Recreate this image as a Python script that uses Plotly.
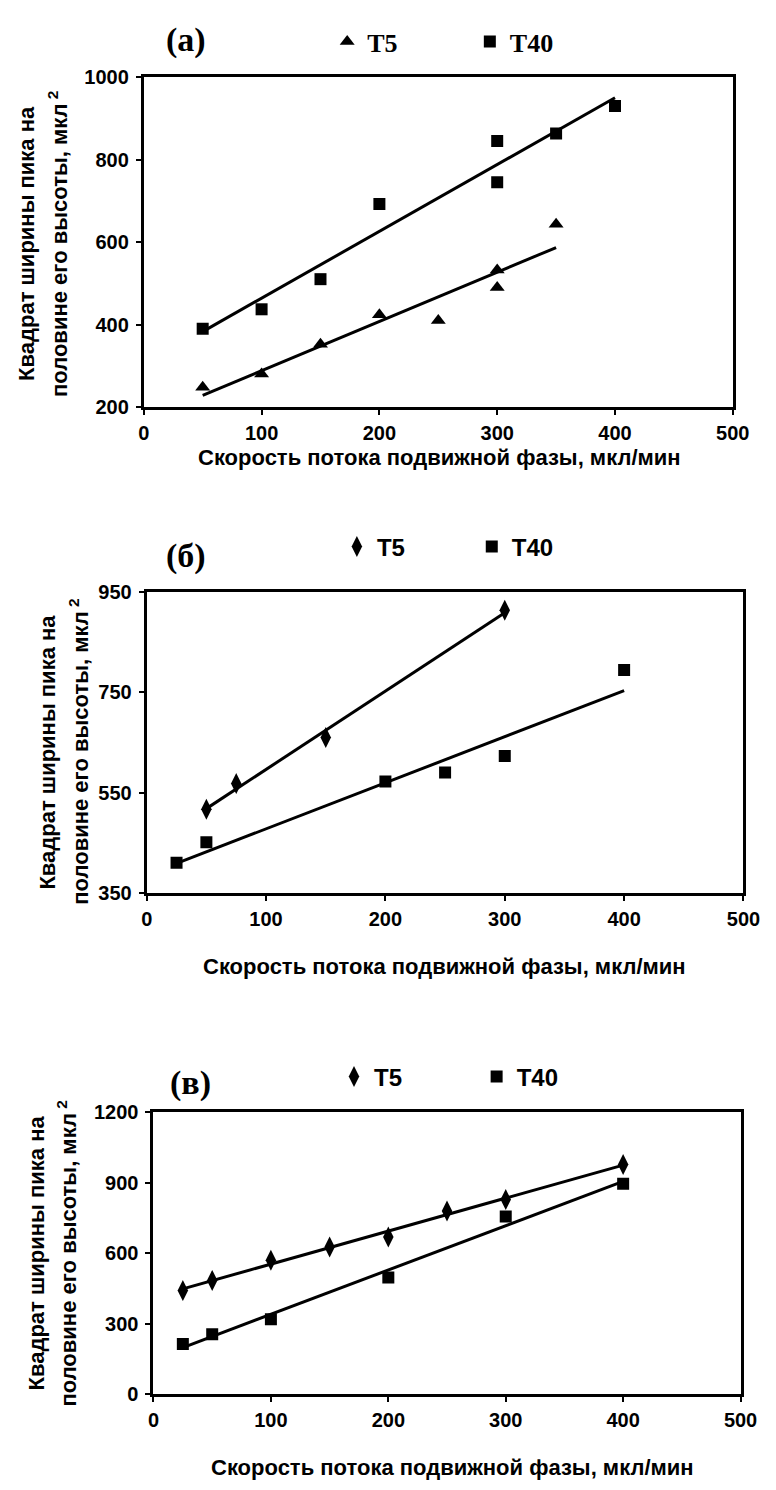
import numpy as np
import plotly.graph_objects as go

W, H = 776, 1490

# ---------------- data ----------------
# panel (a)
a_t5_x = [50, 100, 150, 200, 250, 300, 300, 350]
a_t5_y = [248, 280, 352, 424, 410, 532, 490, 643]
a_t40_x = [50, 100, 150, 200, 300, 300, 350, 400]
a_t40_y = [390, 437, 510, 692, 845, 745, 863, 930]
# panel (б)
b_t5_x = [50, 75, 150, 300]
b_t5_y = [517, 568, 660, 914]
b_t40_x = [25, 50, 200, 250, 300, 400]
b_t40_y = [410, 451, 572, 590, 623, 795]
# panel (в)
c_t5_x = [25, 50, 100, 150, 200, 250, 300, 400]
c_t5_y = [442, 485, 571, 627, 670, 780, 829, 979]
c_t40_x = [25, 50, 100, 200, 300, 400]
c_t40_y = [214, 256, 319, 497, 757, 897]

series_names = ["T5", "T40"]
x_ticks = [0, 100, 200, 300, 400, 500]
a_y_ticks = [200, 400, 600, 800, 1000]
b_y_ticks = [350, 550, 750, 950]
c_y_ticks = [0, 300, 600, 900, 1200]

x_title = "Скорость потока подвижной фазы, мкл/мин"
y_title_1 = "Квадрат ширины пика на"
y_title_2 = "половине его высоты, мкл<sup> 2</sup>"

ARIAL = "Liberation Sans, Arial, sans-serif"
TIMES = "Liberation Serif, Times New Roman, serif"


def px(x):
    return x / W


def py(y):
    return 1 - y / H


fig = go.Figure()

panels = [
    dict(ax="", t5=(a_t5_x, a_t5_y), t40=(a_t40_x, a_t40_y), sym="triangle-up",
         yt=a_y_ticks, xd=(142, 749), yd=(67, 402),
         leg=((351, 31), (498, 31)), legfont=(TIMES, 26)),
    dict(ax="2", t5=(b_t5_x, b_t5_y), t40=(b_t40_x, b_t40_y), sym="diamond-tall",
         yt=b_y_ticks, xd=(145, 760), yd=(590, 895),
         leg=((361, 544), (500, 544)), legfont=(ARIAL, 24)),
    dict(ax="3", t5=(c_t5_x, c_t5_y), t40=(c_t40_x, c_t40_y), sym="diamond-tall",
         yt=c_y_ticks, xd=(152, 757), yd=(1118, 1404),
         leg=((358, 1082), (505, 1082)), legfont=(ARIAL, 24)),
]

legends = {}
li = 0
for p in panels:
    xa = "x" + p["ax"]
    ya = "y" + p["ax"]
    t5size = 13 if p["sym"] == "triangle-up" else 15
    series = [(p["t5"], p["sym"], t5size), (p["t40"], "square", 12)]
    for si, ((xs, ys), sym, size) in enumerate(series):
        li += 1
        lname = "legend" if li == 1 else "legend%d" % li
        lx0, ly0 = p["leg"][si]
        legends[lname] = dict(x=px(lx0 - 20), y=py(ly0), xanchor="left", yanchor="middle",
                              orientation="h", bgcolor="rgba(0,0,0,0)", borderwidth=0,
                              font=dict(family=p["legfont"][0], size=p["legfont"][1],
                                        color="black", weight="bold"))
        fig.add_trace(go.Scatter(x=xs, y=ys, mode="markers", xaxis=xa, yaxis=ya,
                                 name=series_names[si], legend=lname, showlegend=True,
                                 marker=dict(symbol=sym, size=size, color="black")))
        k, b = np.polyfit(xs, ys, 1)
        lx = [min(xs), max(xs)]
        ly = [k * v + b for v in lx]
        fig.add_trace(go.Scatter(x=lx, y=ly, mode="lines", xaxis=xa, yaxis=ya,
                                 line=dict(color="black", width=3),
                                 showlegend=False))

axis_common = dict(showline=True, linecolor="black", linewidth=3, mirror=True,
                   ticks="outside", ticklen=5, tickwidth=1.5, tickcolor="black",
                   showgrid=False, zeroline=False,
                   tickfont=dict(family=ARIAL, size=20, color="black", weight="bold"))

layout = dict(width=W, height=H, margin=dict(l=0, r=0, t=0, b=0),
              paper_bgcolor="white", plot_bgcolor="white", showlegend=True)
layout.update(legends)

for p in panels:
    xk = "xaxis" + p["ax"]
    yk = "yaxis" + p["ax"]
    yt = p["yt"]
    layout[xk] = dict(axis_common, domain=[px(p["xd"][0]), px(p["xd"][1])],
                      range=[0, 500], tickvals=x_ticks, ticklabelstandoff=1,
                      anchor="y" + p["ax"])
    layout[yk] = dict(axis_common, domain=[py(p["yd"][1]), py(p["yd"][0])],
                      range=[yt[0], yt[-1]], tickvals=yt, ticklabelstandoff=3,
                      anchor="x" + p["ax"])

fig.update_layout(**layout)

ann = []


def text(x, y, s, family, size, angle=0):
    ann.append(dict(x=px(x), y=py(y), xref="paper", yref="paper", text=s,
                    showarrow=False, textangle=angle, xanchor="center", yanchor="middle",
                    font=dict(family=family, size=size, color="black", weight="bold")))


# panel labels
text(186, 29, "(a)", TIMES, 34)
text(186, 553, "(б)", TIMES, 34)
text(190, 1088, "(в)", TIMES, 34)

# x titles
text(447, 453, x_title, ARIAL, 22)
text(452, 970, x_title, ARIAL, 22)
text(460, 1478, x_title, ARIAL, 22)

# y titles
for (x1, x2, yc) in [(21, 53, 236), (43, 75, 752), (31, 63, 1261)]:
    text(x1, yc, y_title_1, ARIAL, 22, angle=-90)
    text(x2, yc, y_title_2, ARIAL, 22, angle=-90)

fig.update_layout(annotations=ann)
fig.write_html("out.html")
